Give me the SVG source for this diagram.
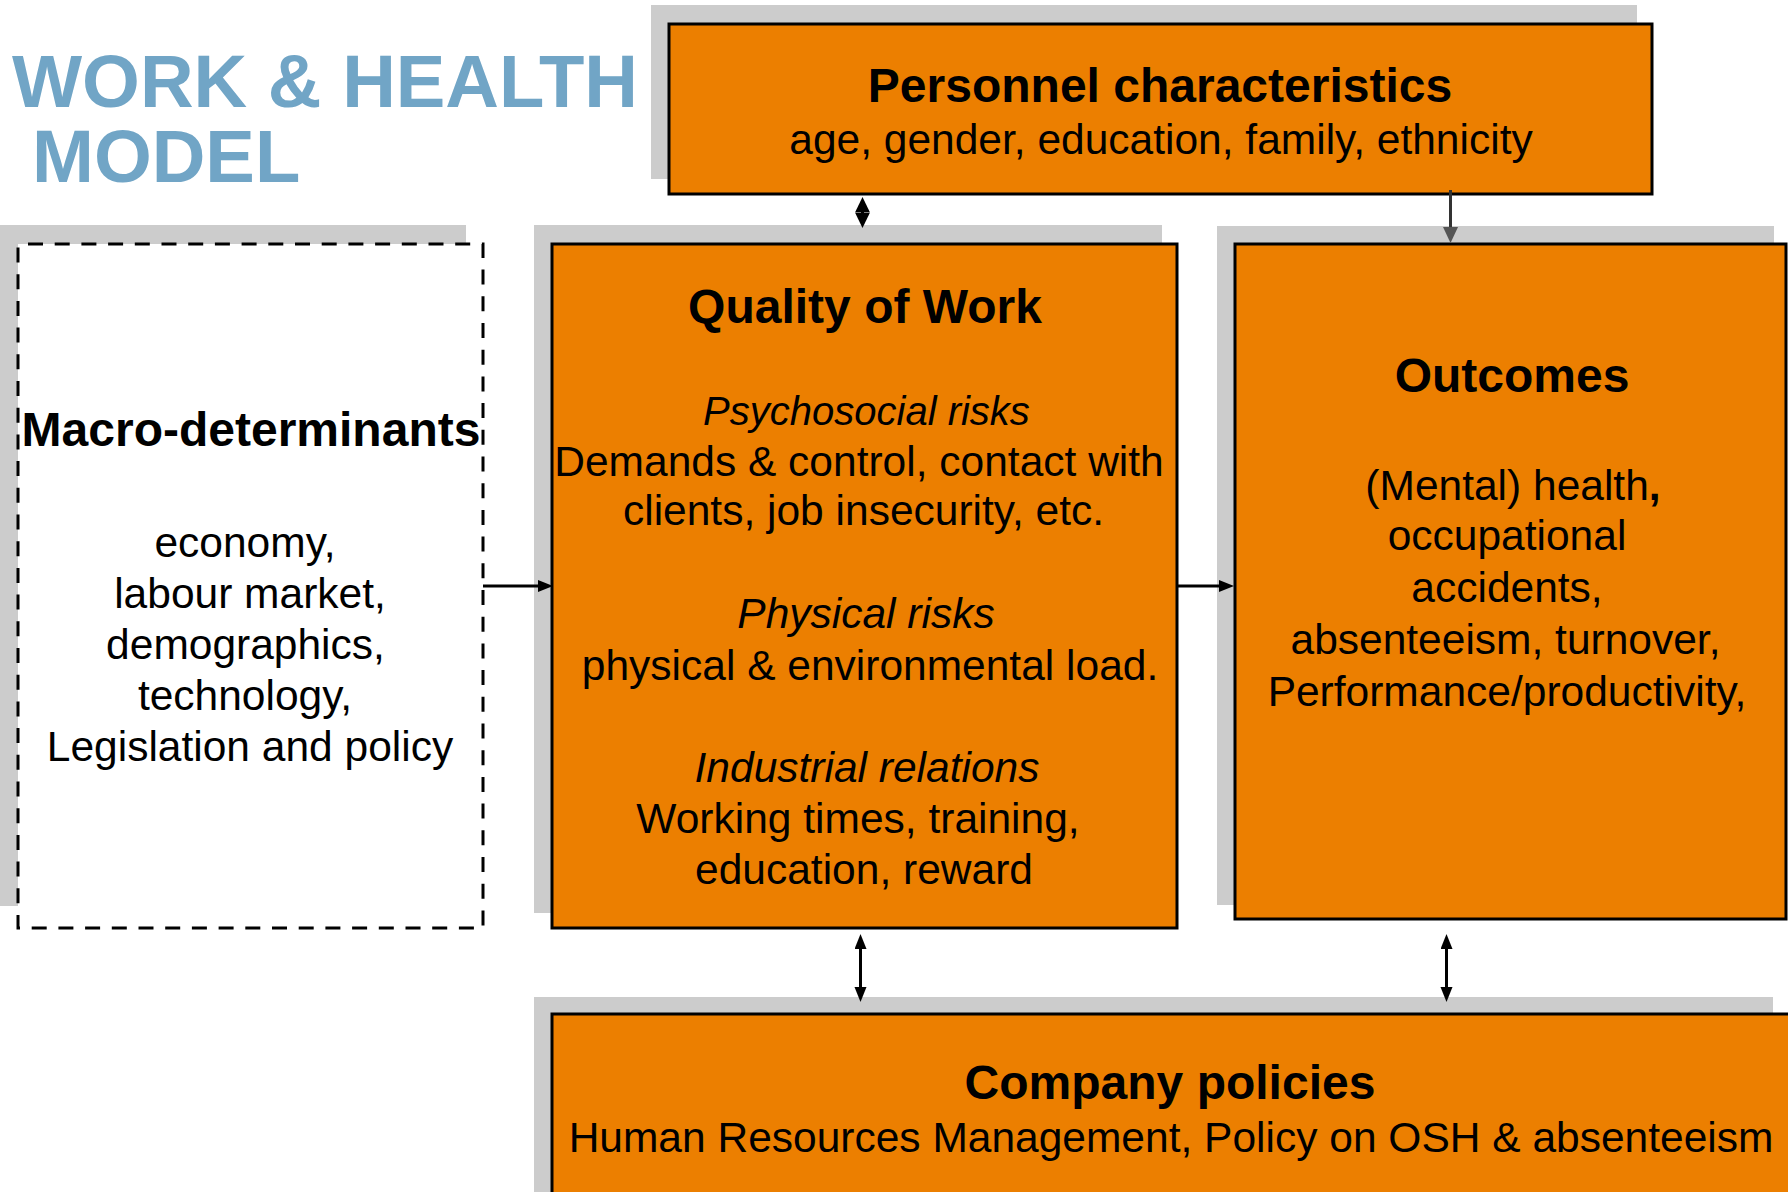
<svg xmlns="http://www.w3.org/2000/svg" width="1788" height="1192" viewBox="0 0 1788 1192">
<style>
.shadow{fill:#cccccc}
.box{fill:#EC7F00;stroke:#000;stroke-width:3}
.dash{fill:#fff;stroke:#000;stroke-width:3;stroke-dasharray:15 11.7;stroke-dashoffset:16.7}
text{font-family:"Liberation Sans",Arial,sans-serif;fill:#000;text-anchor:middle}
.hd{font-size:48px;font-weight:bold}
.bd{font-size:42.5px}
.it{font-style:italic}
.sm{font-size:40px}
.ttl{font-size:74.3px;font-weight:bold;fill:#71a5c6;text-anchor:start}
.conn{stroke:#000;stroke-width:3;fill:none}
</style>
<defs>
<marker id="ah" markerUnits="userSpaceOnUse" markerWidth="16" markerHeight="14" refX="3" refY="6" orient="auto-start-reverse">
<path d="M0,0 L15,6 L0,12 z" fill="#000"/>
</marker>
<marker id="ahd" markerUnits="userSpaceOnUse" markerWidth="17" markerHeight="16" refX="3" refY="7.5" orient="auto-start-reverse">
<path d="M0,0 L15.5,7.5 L0,15 z" fill="#000"/>
</marker>
<marker id="ahg" markerUnits="userSpaceOnUse" markerWidth="17" markerHeight="16" refX="3" refY="7.5" orient="auto">
<path d="M0,0 L16,7.5 L0,15 z" fill="#555"/>
</marker>
</defs>

<g id="title">
<text class="ttl" x="12" y="107">WORK &amp; HEALTH</text>
<text class="ttl" x="32" y="182">MODEL</text>
</g>

<g id="personnel">
<rect class="shadow" x="651" y="5" width="986" height="174"/>
<rect class="box" x="669" y="24" width="983" height="170"/>
<text class="hd" x="1160" y="102">Personnel characteristics</text>
<text class="bd" x="1161" y="154">age, gender, education, family, ethnicity</text>
</g>

<g id="macro">
<rect class="shadow" x="0" y="225" width="466" height="681"/>
<rect class="dash" x="18" y="244" width="465" height="684"/>
<text class="hd" x="251" y="446">Macro-determinants</text>
<text class="bd" x="245" y="557">economy,</text>
<text class="bd" x="250" y="608">labour market,</text>
<text class="bd" x="245.5" y="659">demographics,</text>
<text class="bd" x="245" y="710">technology,</text>
<text class="bd" x="250" y="761">Legislation and policy</text>
</g>

<g id="quality">
<rect class="shadow" x="534" y="225" width="628" height="688"/>
<rect class="box" x="552" y="244" width="625" height="684"/>
<text class="hd" x="865" y="323">Quality of Work</text>
<text class="it sm" x="866.5" y="425">Psychosocial risks</text>
<text class="bd" x="859" y="476">Demands &amp; control, contact with</text>
<text class="bd" x="863.5" y="525">clients, job insecurity, etc.</text>
<text class="bd it" x="866" y="628">Physical risks</text>
<text class="bd" x="870" y="680">physical &amp; environmental load.</text>
<text class="bd it" x="867" y="782">Industrial relations</text>
<text class="bd" x="858" y="833">Working times, training,</text>
<text class="bd" x="864" y="884">education, reward</text>
</g>

<g id="outcomes">
<rect class="shadow" x="1217" y="226" width="557" height="679"/>
<rect class="box" x="1235" y="244" width="551" height="675"/>
<text class="hd" x="1512" y="392">Outcomes</text>
<text class="bd" x="1513" y="500">(Mental) health<tspan font-weight="bold">,</tspan></text>
<text class="bd" x="1507" y="550">occupational</text>
<text class="bd" x="1507" y="602">accidents,</text>
<text class="bd" x="1505.5" y="654">absenteeism, turnover,</text>
<text class="bd" x="1507" y="705.5">Performance/productivity,</text>
</g>

<g id="company">
<rect class="shadow" x="534" y="997" width="1239" height="220"/>
<rect class="box" x="552" y="1014" width="1250" height="220"/>
<text class="hd" x="1170" y="1099">Company policies</text>
<text class="bd" x="1171" y="1152">Human Resources Management, Policy on OSH &amp; absenteeism</text>
</g>

<g id="connectors">
<line class="conn" x1="862.5" y1="209.5" x2="862.5" y2="215.5" marker-start="url(#ahd)" marker-end="url(#ahd)"/>
<line x1="1450.5" y1="190" x2="1450.5" y2="230" stroke="#333" stroke-width="3" marker-end="url(#ahg)"/>
<line class="conn" x1="483" y1="586" x2="541" y2="586" marker-end="url(#ah)"/>
<line class="conn" x1="1177" y1="586" x2="1222" y2="586" marker-end="url(#ah)"/>
<line class="conn" x1="860.5" y1="946" x2="860.5" y2="990" marker-start="url(#ah)" marker-end="url(#ah)"/>
<line class="conn" x1="1446.5" y1="946" x2="1446.5" y2="990" marker-start="url(#ah)" marker-end="url(#ah)"/>
</g>
</svg>
